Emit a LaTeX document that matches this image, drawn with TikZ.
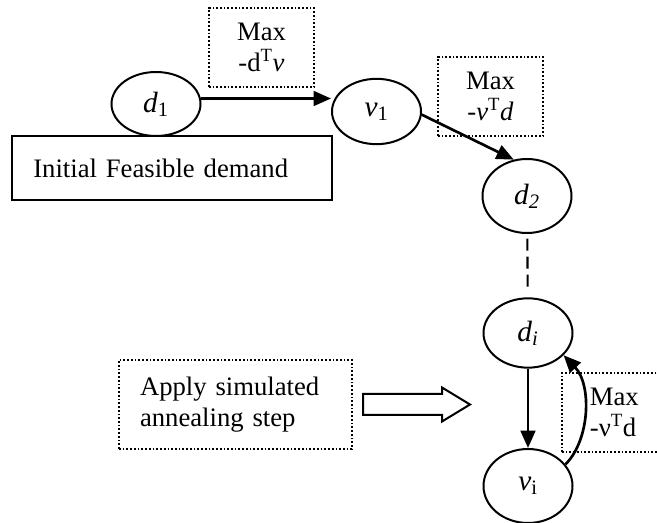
\documentclass[tikz,border=0pt]{standalone}
\usepackage{fontspec}
\setmainfont{Liberation Serif}
\usetikzlibrary{shapes.geometric,arrows.meta}
\begin{document}
\begin{tikzpicture}[x=0.75pt,y=-0.75pt]
  \tikzstyle{every node}=[font=\fontsize{20pt}{23pt}\selectfont]
  \tikzstyle{vnode}=[ellipse,draw,line width=1.5pt,minimum width=66.75pt,minimum height=55.5pt,inner sep=0pt,font=\fontsize{22pt}{26pt}\selectfont]
  \tikzstyle{dotbox}=[rectangle,draw,line width=1.3pt,dash pattern=on 1.3pt off 1.5pt,minimum height=59.25pt]
  \tikzstyle{arr}=[line width=2pt,-{Triangle[length=13pt,width=11pt]}]
  \useasboundingbox (0,0) rectangle (657,523);
  \clip (0,0) rectangle (657,523);
  % chain of states
  \node[vnode,minimum height=48pt] (d1) at (156,104) {\textit{d}\textsubscript{1}};
  \node[vnode,minimum height=49pt] (v1) at (376.5,111.5) {\textit{v}\textsubscript{1}};
  \node[vnode] (d2) at (527,196) {\textit{d\textsubscript{2}}};
  \node[vnode,minimum height=52pt] (di) at (528,333) {\textit{d\textsubscript{i}}};
  \node[vnode] (vi) at (528,486) {\textit{v}\textsubscript{i}};
  % boxes
  \node[rectangle,draw,line width=1.5pt,minimum height=48pt,text width=208pt,inner xsep=16pt,align=left] (init) at (172,168) {Initial Feasible demand};
  \node[dotbox,minimum width=78.75pt,align=center] (maxA) at (261.5,47.5) {Max\\-d\textsuperscript{T}\textit{v}};
  \node[dotbox,minimum width=78.75pt,align=center] (maxB) at (490.5,96.5) {Max\\-\textit{v}\textsuperscript{T}\textit{d}};
  \node[dotbox,anchor=west,text width=45pt,inner xsep=21pt,align=left] (maxC) at (561,412.5) {Max\\-ν\textsuperscript{T}d};
  \node[dotbox,minimum height=66.75pt,text width=143.25pt,inner xsep=15.75pt,align=left] (apply) at (235.5,404.5) {Apply simulated\\annealing step};
  % hollow arrow
  \draw[line width=1.5pt] (363,394) -- (442,394) -- (442,387.5) -- (470,404.5) -- (442,421.5) -- (442,415) -- (363,415) -- cycle;
  % connectors
  \draw[arr] (d1.7) -- (v1.west |- d1.7);
  \draw[arr] (v1.-4) -- (d2.110);
  \draw[line width=1.6pt,dash pattern=on 9pt off 4.5pt,shorten <=3.5pt,shorten >=6pt] (d2) -- (di);
  \draw[arr] (di) -- (vi);
  \draw[arr] (vi.30) .. controls (590,440) and (592,385) .. (di.-32);
\end{tikzpicture}
\end{document}
